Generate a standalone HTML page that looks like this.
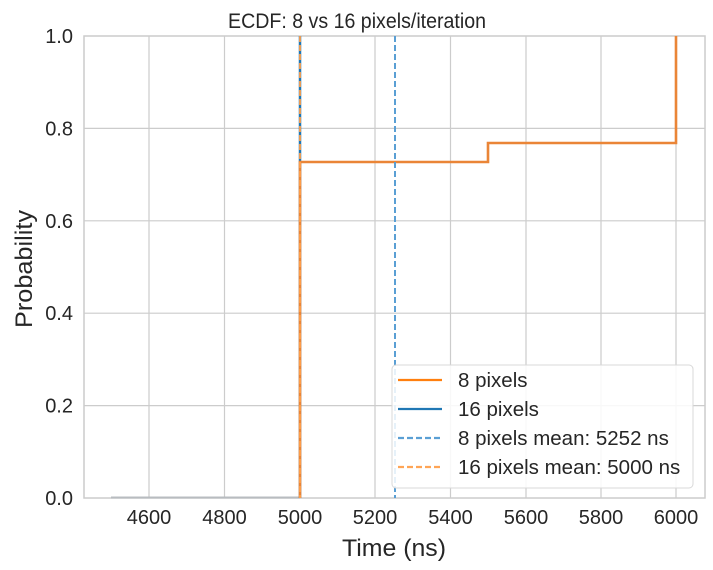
<!DOCTYPE html>
<html><head><meta charset="utf-8"><style>body{margin:0;background:#fff}svg{display:block}text{font-family:"Liberation Sans",sans-serif;fill:#262626}</style></head>
<body>
<svg width="713" height="570" viewBox="0 0 713 570">
<rect width="713" height="570" fill="#fff"/>
<g stroke="#cccccc" stroke-width="1.2">
<line x1="149" y1="36" x2="149" y2="498"/><line x1="224.5" y1="36" x2="224.5" y2="498"/><line x1="300" y1="36" x2="300" y2="498"/><line x1="375" y1="36" x2="375" y2="498"/><line x1="450.5" y1="36" x2="450.5" y2="498"/><line x1="526" y1="36" x2="526" y2="498"/><line x1="601" y1="36" x2="601" y2="498"/><line x1="676" y1="36" x2="676" y2="498"/>
<line x1="84" y1="128.4" x2="705" y2="128.4"/><line x1="84" y1="220.8" x2="705" y2="220.8"/><line x1="84" y1="313.2" x2="705" y2="313.2"/><line x1="84" y1="405.6" x2="705" y2="405.6"/>
</g>
<rect x="84" y="36" width="621" height="462" fill="none" stroke="#cccccc" stroke-width="1.5"/>
<line x1="111" y1="497.5" x2="300" y2="497.5" stroke="#b8bcc0" stroke-width="2"/>
<line x1="300" y1="36" x2="300" y2="498" stroke="#1f77b4" stroke-width="2.5"/>
<polyline points="300,498 300,162 488,162 488,143 676,143 676,36" fill="none" stroke="#ea8537" stroke-width="2.6"/>
<line x1="300" y1="36" x2="300" y2="498" stroke="#ff9f4a" stroke-width="1.8" stroke-dasharray="6,3"/>
<line x1="395" y1="36" x2="395" y2="498" stroke="#5a9fd4" stroke-width="2" stroke-dasharray="6,3"/>
<text x="228" y="28" font-size="21" textLength="258" lengthAdjust="spacingAndGlyphs">ECDF: 8 vs 16 pixels/iteration</text>
<g font-size="20" text-anchor="middle">
<text x="149" y="524">4600</text><text x="224.5" y="524">4800</text><text x="300" y="524">5000</text><text x="375" y="524">5200</text><text x="450.5" y="524">5400</text><text x="526" y="524">5600</text><text x="601" y="524">5800</text><text x="676" y="524">6000</text>
</g>
<g font-size="20" text-anchor="end">
<text x="73" y="43">1.0</text><text x="73" y="135.4">0.8</text><text x="73" y="227.8">0.6</text><text x="73" y="320.2">0.4</text><text x="73" y="412.6">0.2</text><text x="73" y="505">0.0</text>
</g>
<text x="342" y="556" font-size="24" textLength="104" lengthAdjust="spacingAndGlyphs">Time (ns)</text>
<text transform="translate(32,328) rotate(-90)" font-size="24" textLength="118" lengthAdjust="spacingAndGlyphs">Probability</text>
<rect x="392" y="365" width="301" height="123" rx="4" fill="#fff" fill-opacity="0.85" stroke="#d8d8d8"/>
<g stroke-width="2.2">
<line x1="398" y1="380" x2="442" y2="380" stroke="#ff7f0e"/>
<line x1="398" y1="409" x2="442" y2="409" stroke="#1f77b4"/>
<line x1="398" y1="438" x2="442" y2="438" stroke="#5a9fd4" stroke-dasharray="6,3"/>
<line x1="398" y1="467" x2="442" y2="467" stroke="#ffa556" stroke-dasharray="6,3"/>
</g>
<g font-size="20.5">
<text x="458" y="387">8 pixels</text><text x="458" y="416">16 pixels</text><text x="458" y="445">8 pixels mean: 5252 ns</text><text x="458" y="474">16 pixels mean: 5000 ns</text>
</g>
</svg>
</body></html>
